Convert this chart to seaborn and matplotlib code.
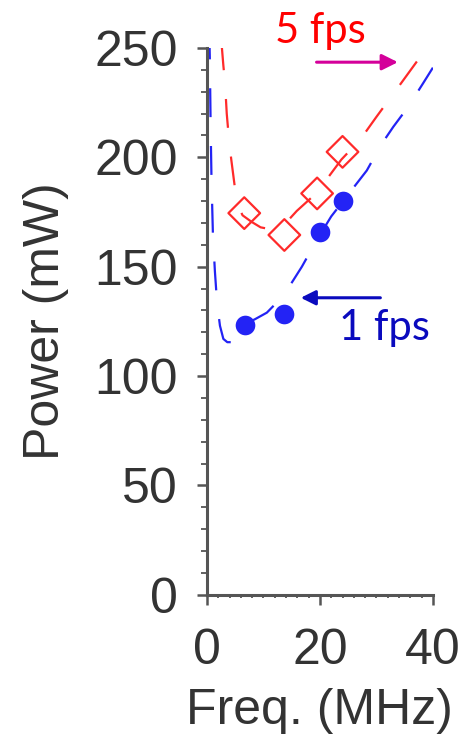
import matplotlib
matplotlib.use("Agg")
import matplotlib.pyplot as plt
from matplotlib.ticker import MultipleLocator
import seaborn as sns

# measured points
freq_1fps = [6.7, 13.6, 20.0, 24.1]
power_1fps = [123.5, 128.5, 166, 180]
freq_5fps = [6.6, 13.7, 19.5, 24.0]
power_5fps = [174.5, 164.5, 183.5, 202.5]

# fitted curves (dashed)
fit_freq_1fps = [0.4, 0.5, 0.65, 0.8, 1.05, 1.4, 1.8, 2.3, 2.9, 3.6, 4.4, 5.4, 6.9, 8.5,
                 10.6, 12.5, 14.1, 16.8, 19.4, 22.0, 25.3, 28.3, 30.9, 33.0, 35.6, 38.3, 40.0]
fit_power_1fps = [258, 246, 214, 190, 165, 148, 133, 123, 117, 115.5, 115.5, 118, 124, 126,
                  129, 134, 139, 150, 162, 173, 184, 194, 206, 214, 223, 234, 241]
fit_freq_5fps = [2.55, 2.9, 3.2, 3.5, 3.9, 4.3, 4.7, 5.3, 6.3, 7.9, 9.5, 11.5, 13.6,
                 15.9, 19.1, 21.5, 23.8, 27.1, 30.0, 34.4, 38.9, 39.3]
fit_power_5fps = [253, 242, 234, 220, 208, 199, 191, 179, 173.5, 170.5, 168, 167, 169,
                  175.5, 183, 191, 199, 208, 218.5, 234, 250, 252]

xticks = [0, 20, 40]
yticks = [0, 50, 100, 150, 200, 250]

blue = "#2323f5"
red = "#ff2a2a"

sns.set_style("ticks")
plt.rcParams["font.family"] = ["Liberation Sans", "DejaVu Sans"]

fig = plt.figure(figsize=(4.62, 7.38), dpi=100)
ax = fig.add_axes([0.448, 0.194, 0.489, 0.741])

sns.lineplot(x=fit_freq_1fps, y=fit_power_1fps, color=blue, linewidth=1.6,
             linestyle=(0, (13, 13)), sort=False, estimator=None, ax=ax)
sns.lineplot(x=fit_freq_5fps, y=fit_power_5fps, color=red, linewidth=1.6,
             linestyle=(0, (13, 13)), sort=False, estimator=None, ax=ax)

sns.scatterplot(x=freq_1fps, y=power_1fps, marker="o", s=200, color=blue,
                edgecolor=blue, linewidth=0, zorder=4, ax=ax)
sns.scatterplot(x=freq_5fps, y=power_5fps, marker="D", s=260, facecolor="none",
                edgecolor=red, linewidth=1.6, zorder=4, ax=ax)
ax.collections[-1].set_facecolor("none")

ax.set_xlim(0, 40)
ax.set_ylim(0, 250)
ax.set_xticks(xticks)
ax.set_yticks(yticks)
ax.xaxis.set_minor_locator(MultipleLocator(2))
ax.yaxis.set_minor_locator(MultipleLocator(10))
for side in ["top", "right"]:
    ax.spines[side].set_visible(False)
for side in ["left", "bottom"]:
    ax.spines[side].set_linewidth(2.2)
    ax.spines[side].set_color("#555555")
ax.tick_params(which="major", length=7, width=1.8, color="#555555",
               labelsize=36, labelcolor="#333333")
ax.tick_params(axis="y", which="major", pad=14)
ax.tick_params(axis="x", which="major", pad=17)
ax.tick_params(axis="y", which="minor", length=4, width=1.3, color="#555555")
ax.tick_params(axis="x", which="minor", length=2.5, width=1.3, color="#555555")

ax.set_xlabel("Freq. (MHz)", fontsize=36, color="#333333", labelpad=10)
ax.set_ylabel("Power (mW)", fontsize=36, color="#333333", labelpad=18)

# annotations
ax.text(12.0, 252.5, "5 fps", color="#ff0000", fontsize=30, family=["Lato", "DejaVu Sans"],
        ha="left", va="baseline", clip_on=False)
ax.annotate("", xy=(33.8, 243.5), xytext=(19.4, 243.5),
            arrowprops=dict(arrowstyle="-|>", color="#d4009a", lw=2.2,
                            mutation_scale=24, shrinkA=0, shrinkB=0),
            annotation_clip=False)
ax.text(23.4, 116.5, "1 fps", color="#0a0abe", fontsize=30, family=["Lato", "DejaVu Sans"],
        ha="left", va="baseline", clip_on=False)
ax.annotate("", xy=(16.6, 135.8), xytext=(30.7, 135.8),
            arrowprops=dict(arrowstyle="-|>", color="#0a0abe", lw=2.2,
                            mutation_scale=22, shrinkA=0, shrinkB=0),
            annotation_clip=False)

fig.savefig("out.png", dpi=100)
